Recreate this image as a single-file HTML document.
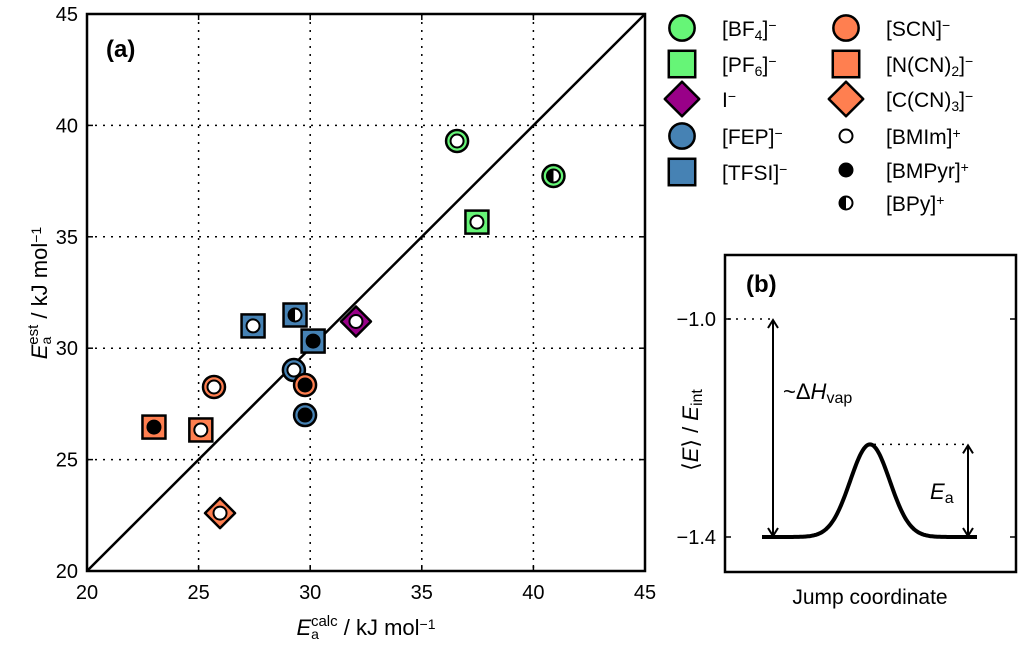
<!DOCTYPE html>
<html><head><meta charset="utf-8">
<style>
html,body{margin:0;padding:0;background:#fff;}
svg{display:block;font-family:"Liberation Sans",sans-serif;}
</style></head><body>
<svg id="c" width="1024" height="648" viewBox="0 0 1024 648" xmlns="http://www.w3.org/2000/svg">
<g id="pa"></g>
<g id="leg"></g>
<g id="pb"></g>
</svg>
<script>
const NS="http://www.w3.org/2000/svg";
const xTicks=[20,25,30,35,40,45];
const yTicks=[20,25,30,35,40,45];
const xCalc=[36.58,40.9,37.47,32.05,27.44,29.32,30.13,29.27,29.77,25.69,29.77,23.0,25.1,25.96];
const yEst=[39.3,37.73,35.66,31.2,31.0,31.49,30.32,29.02,27.0,28.26,28.35,26.46,26.33,22.6];
const anion=["BF4","BF4","PF6","I","TFSI","TFSI","TFSI","FEP","FEP","SCN","SCN","NCN2","NCN2","CCN3"];
const cation=["BMIm","BPy","BMIm","BMIm","BMIm","BPy","BMPyr","BMIm","BMPyr","BMIm","BMPyr","BMPyr","BMIm","BMIm"];
const bTicks=[-1.0,-1.4];
const bPeak=-1.23;

const L=87,R=645,T=14,B=571;
const sx=v=>L+(v-20)/25*(R-L);
const sy=v=>B-(v-20)/25*(B-T);
const styles={BF4:["#66f577","circle"],PF6:["#66f577","square"],I:["#990088","diamond"],FEP:["#4682b4","circle"],TFSI:["#4682b4","square"],SCN:["#ff7f50","circle"],NCN2:["#ff7f50","square"],CCN3:["#ff7f50","diamond"]};
function mk(tag,at,parent,txt){const e=document.createElementNS(NS,tag);for(const k in at)e.setAttribute(k,at[k]);if(txt!==undefined)e.textContent=txt;parent.appendChild(e);return e;}
const SUB=s=>`<tspan font-size="14" baseline-shift="-25%">${s}</tspan>`;
const SUP=s=>`<tspan font-size="14" baseline-shift="45%">${s}</tspan>`;
const pa=document.getElementById('pa');
xTicks.slice(1,-1).forEach(v=>{const g=mk('line',{x1:sx(v),x2:sx(v),y1:T,y2:B,stroke:'#000','stroke-width':1.5,'stroke-dasharray':'2,6'},pa);

});
yTicks.slice(1,-1).forEach(v=>{const g=mk('line',{x1:L,x2:R,y1:sy(v),y2:sy(v),stroke:'#000','stroke-width':1.5,'stroke-dasharray':'2,6'},pa);

});
const d=mk('line',{x1:sx(20),y1:sy(20),x2:sx(45),y2:sy(45),stroke:'#000','stroke-width':2.5},pa);


xTicks.forEach(v=>{mk('line',{x1:sx(v),x2:sx(v),y1:B,y2:B-6,stroke:'#000','stroke-width':1.5},pa);mk('line',{x1:sx(v),x2:sx(v),y1:T,y2:T+6,stroke:'#000','stroke-width':1.5},pa);
const t=mk('text',{x:sx(v),y:B+28,'text-anchor':'middle','font-size':20},pa,v);

});
yTicks.forEach(v=>{mk('line',{x1:L,x2:L+6,y1:sy(v),y2:sy(v),stroke:'#000','stroke-width':1.5},pa);mk('line',{x1:R,x2:R-6,y1:sy(v),y2:sy(v),stroke:'#000','stroke-width':1.5},pa);
const t=mk('text',{x:L-9,y:sy(v)+7,'text-anchor':'end','font-size':20},pa,v);

});
function marker(parent,cx,cy,shape,col,cat,scale){
 const s=scale||1;
 if(shape==='circle')mk('circle',{cx,cy,r:11*s,fill:col,stroke:'#000','stroke-width':2.5},parent);
 else if(shape==='square')mk('rect',{x:cx-11.5*s,y:cy-11.5*s,width:23*s,height:23*s,fill:col,stroke:'#000','stroke-width':2.5},parent);
 else mk('polygon',{points:`${cx},${cy-15*s} ${cx+15*s},${cy} ${cx},${cy+15*s} ${cx-15*s},${cy}`,fill:col,stroke:'#000','stroke-width':2.5,'stroke-linejoin':'round'},parent);
 if(cat)inner(parent,cx,cy,cat,6.5);
}
function inner(parent,cx,cy,cat,r){
 if(cat==='BMIm')mk('circle',{cx,cy,r,fill:'#fff',stroke:'#000','stroke-width':2},parent);
 else if(cat==='BMPyr')mk('circle',{cx,cy,r,fill:'#000',stroke:'#000','stroke-width':2},parent);
 else{mk('circle',{cx,cy,r,fill:'#fff',stroke:'#000','stroke-width':2},parent);mk('path',{d:`M${cx},${cy-r} A${r},${r} 0 0 0 ${cx},${cy+r} Z`,fill:'#000'},parent);}
}
xCalc.forEach((v,i)=>{const g=mk('g',{},pa);


 const st=styles[anion[i]];marker(g,sx(v),sy(yEst[i]),st[1],st[0],cation[i]);});
mk('rect',{x:L,y:T,width:R-L,height:B-T,fill:'none',stroke:'#000','stroke-width':2.5},pa);
const la=mk('text',{x:106,y:57,'font-size':24,'font-weight':'bold'},pa,'(a)');


const xt=mk('text',{x:366,y:635,'text-anchor':'middle','font-size':22},pa);


xt.innerHTML='<tspan font-style="italic">E</tspan>'+SUB('a')+'<tspan font-size="15" baseline-shift="60%" dx="-8">calc</tspan> / kJ mol'+SUP('−1');
const yt=mk('text',{transform:'translate(47,293) rotate(-90)','text-anchor':'middle','font-size':22},pa);


yt.innerHTML='<tspan font-style="italic">E</tspan>'+SUB('a')+'<tspan font-size="15" baseline-shift="60%" dx="-8">est</tspan> / kJ mol'+SUP('−1');
const leg=document.getElementById('leg');
const legA=[["BF4",'[BF'+SUB('4')+']'+SUP('−')],["PF6",'[PF'+SUB('6')+']'+SUP('−')],["I",'I'+SUP('−')],["FEP",'[FEP]'+SUP('−')],["TFSI",'[TFSI]'+SUP('−')]];
const legB=[["SCN",'[SCN]'+SUP('−')],["NCN2",'[N(CN)'+SUB('2')+']'+SUP('−')],["CCN3",'[C(CN)'+SUB('3')+']'+SUP('−')],["BMIm",'[BMIm]'+SUP('+')],["BMPyr",'[BMPyr]'+SUP('+')],["BPy",'[BPy]'+SUP('+')]];
const legAY=[28,64,99,136,172],legBY=[28,64,99,136,170,203];
legA.forEach((e,i)=>{const y=legAY[i];const g=mk('g',{},leg);


 const st=styles[e[0]];marker(g,682,y,st[1],st[0],null,1.15);const t=mk('text',{x:722,y:y+8,'font-size':21},g);t.innerHTML=e[1];});
legB.forEach((e,i)=>{const y=legBY[i];const g=mk('g',{},leg);


 if(styles[e[0]]){const st=styles[e[0]];marker(g,846,y,st[1],st[0],null,1.15);}else inner(g,846,y,e[0],6.5);
 const t=mk('text',{x:886,y:y+8,'font-size':21},g);t.innerHTML=e[1];});
const pb=document.getElementById('pb');
const bL=725,bR=1016,bT=255,bB=572;
const by=v=>537+(v-(-1.4))/0.4*(319-537);
bTicks.forEach(v=>{mk('line',{x1:bL,x2:bL+6,y1:by(v),y2:by(v),stroke:'#000','stroke-width':1.5},pb);mk('line',{x1:bR,x2:bR-6,y1:by(v),y2:by(v),stroke:'#000','stroke-width':1.5},pb);
 const t=mk('text',{x:bL-9,y:by(v)+7,'text-anchor':'end','font-size':20},pb,'−'+Math.abs(v).toFixed(1));

});
let dpath='';
for(let x=762;x<=977;x++){const v=-1.4+(bPeak+1.4)*Math.exp(-Math.pow((x-870)/28,2));dpath+=(x===762?'M':'L')+x+','+by(v).toFixed(1);}
const cu=mk('path',{d:dpath,fill:'none',stroke:'#000','stroke-width':4},pb);


mk('line',{x1:bL+3,x2:770,y1:by(-1.0),y2:by(-1.0),stroke:'#000','stroke-width':1.5,'stroke-dasharray':'2,6'},pb);
mk('line',{x1:874,x2:966,y1:by(bPeak),y2:by(bPeak),stroke:'#000','stroke-width':1.5,'stroke-dasharray':'2,6'},pb);
function arrow(x,y1,y2,name){const g=mk('g',{},pb);


 mk('line',{x1:x,x2:x,y1:y1+1,y2:y2-1,stroke:'#000','stroke-width':2},g);
 mk('path',{d:`M${x-5},${y1+9} L${x},${y1+1} L${x+5},${y1+9} M${x-5},${y2-9} L${x},${y2-1} L${x+5},${y2-9}`,fill:'none',stroke:'#000','stroke-width':2},g);}
arrow(773,by(-1.0),by(-1.4),'dhvap-arrow');
arrow(968,by(bPeak),by(-1.4),'ea-arrow');
mk('rect',{x:bL,y:bT,width:bR-bL,height:bB-bT,fill:'none',stroke:'#000','stroke-width':2.5},pb);
const lb=mk('text',{x:746,y:292,'font-size':24,'font-weight':'bold'},pb,'(b)');


const h=mk('text',{x:783,y:399,'font-size':22},pb);h.innerHTML='~Δ<tspan font-style="italic">H</tspan><tspan font-size="16" baseline-shift="-25%">vap</tspan>';


const ea=mk('text',{x:930,y:499,'font-size':22},pb);ea.innerHTML='<tspan font-style="italic">E</tspan><tspan font-size="16" baseline-shift="-25%">a</tspan>';


const bx=mk('text',{x:870,y:604,'text-anchor':'middle','font-size':21},pb,'Jump coordinate');


const byt=mk('text',{transform:'translate(698,430) rotate(-90)','text-anchor':'middle','font-size':22},pb);
byt.innerHTML='⟨<tspan font-style="italic">E</tspan>⟩ / <tspan font-style="italic">E</tspan><tspan font-size="16" baseline-shift="-25%">int</tspan>';


</script>
</body></html>
